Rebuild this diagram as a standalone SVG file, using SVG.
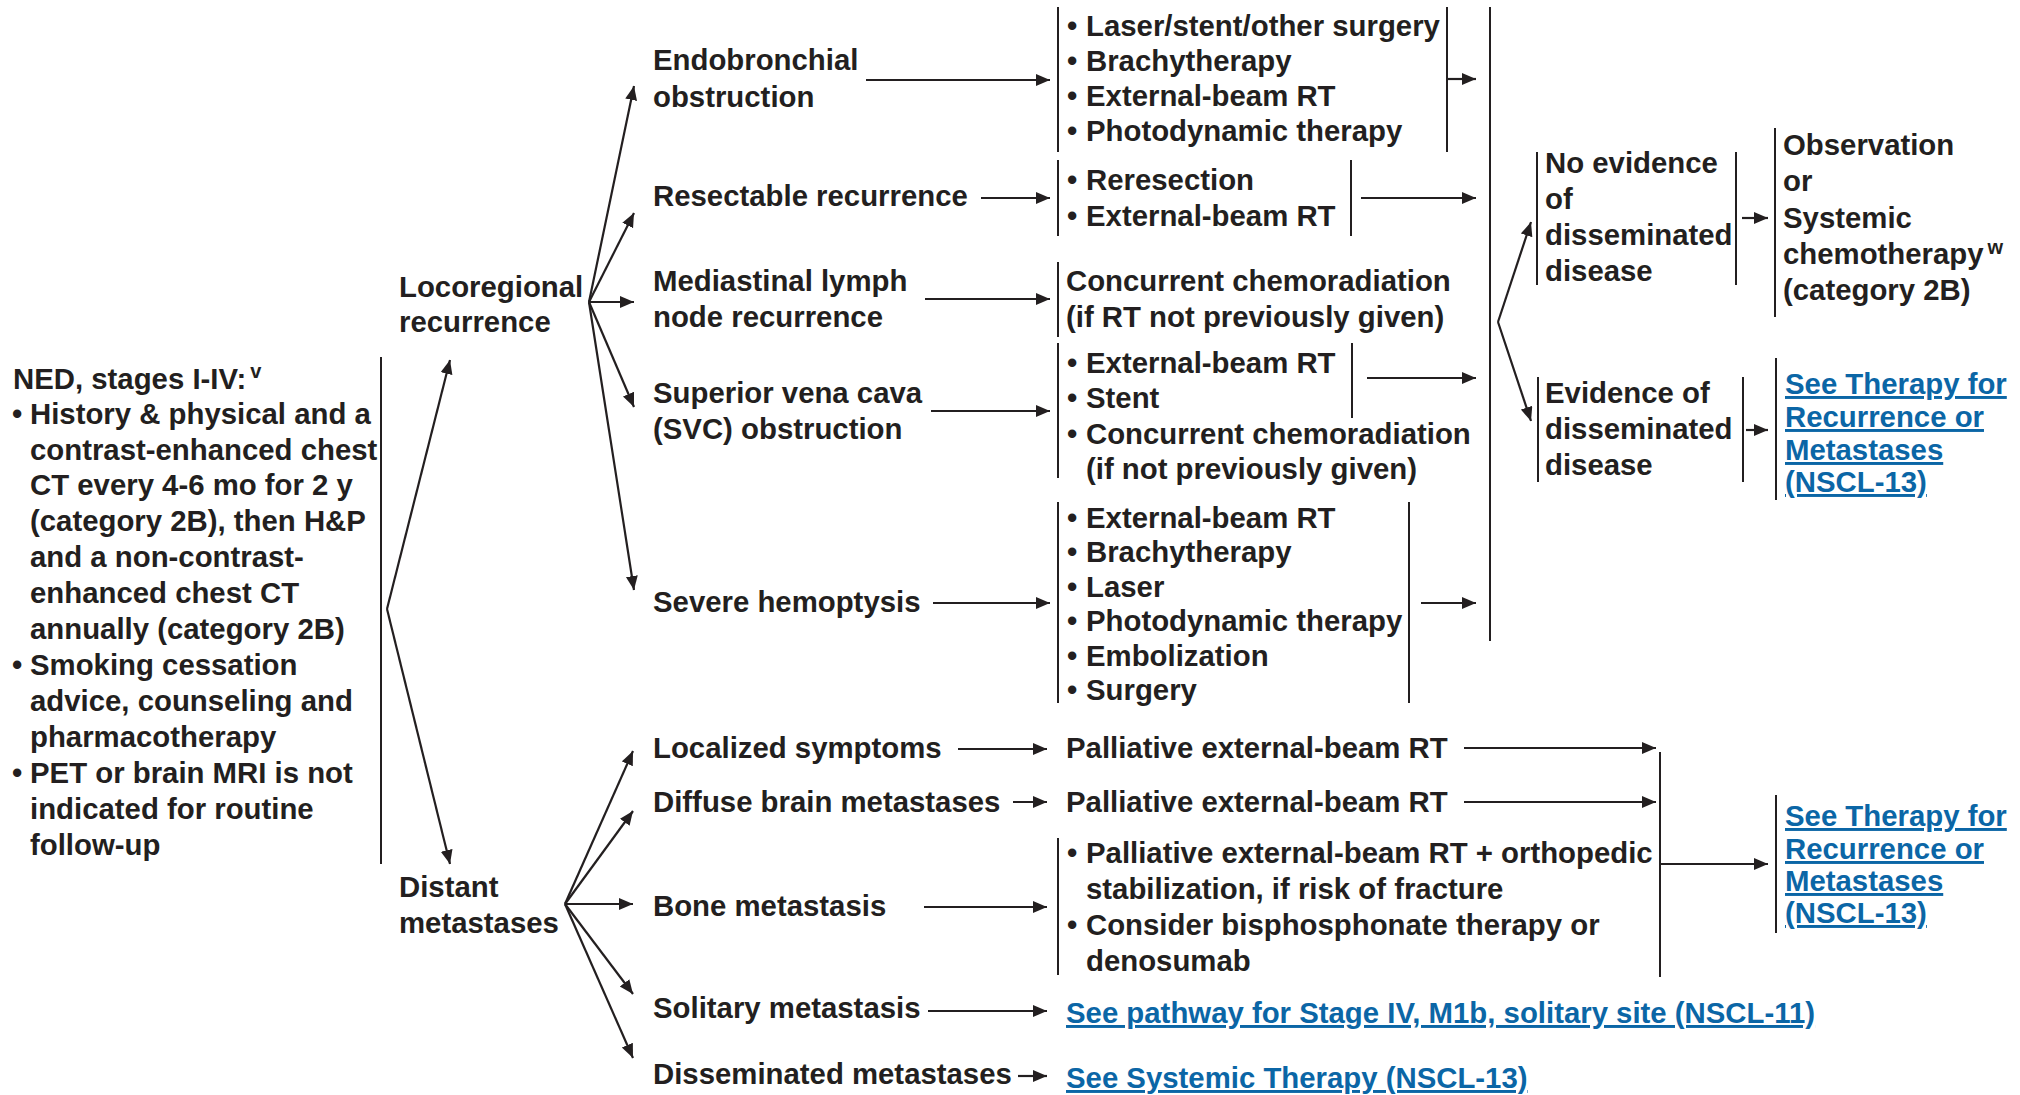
<svg xmlns="http://www.w3.org/2000/svg" width="2020" height="1095" viewBox="0 0 2020 1095">
<defs>
<style>
text{font-family:"Liberation Sans",Arial,Helvetica,sans-serif;font-weight:bold;font-size:29.35px;fill:#231f20}
.lk{fill:#0b66a6;text-decoration:underline}
.sup{font-size:20px}
.br{stroke:#231f20;stroke-width:2;fill:none}
.cn{stroke:#231f20;stroke-width:2.2;fill:none;marker-end:url(#ah)}
</style>
<marker id="ah" markerUnits="userSpaceOnUse" markerWidth="15" markerHeight="13" refX="14" refY="6" orient="auto">
<path d="M0,0 L14,6 L0,12 z" fill="#231f20"/>
</marker>
</defs>
<rect width="2020" height="1095" fill="#ffffff"/>

<g id="ned">
<text x="13" y="389">NED, stages I-IV:<tspan class="sup" dx="4" dy="-11">v</tspan></text>
<text x="12" y="424">•<tspan x="30">History &amp; physical and a</tspan></text>
<text x="30" y="460">contrast-enhanced chest</text>
<text x="30" y="495">CT every 4-6 mo for 2 y</text>
<text x="30" y="531">(category 2B), then H&amp;P</text>
<text x="30" y="567">and a non-contrast-</text>
<text x="30" y="603">enhanced chest CT</text>
<text x="30" y="639">annually (category 2B)</text>
<text x="12" y="675">•<tspan x="30">Smoking cessation</tspan></text>
<text x="30" y="711">advice, counseling and</text>
<text x="30" y="747">pharmacotherapy</text>
<text x="12" y="783">•<tspan x="30">PET or brain MRI is not</tspan></text>
<text x="30" y="819">indicated for routine</text>
<text x="30" y="855">follow-up</text>
<line class="br" x1="381" y1="357" x2="381" y2="864"/>
</g>

<g id="locoregional">
<text x="399" y="297">Locoregional</text>
<text x="399" y="332">recurrence</text>
</g>

<g id="distant">
<text x="399" y="897">Distant</text>
<text x="399" y="933">metastases</text>
</g>

<g id="endobronchial">
<text x="653" y="70">Endobronchial</text>
<text x="653" y="107">obstruction</text>
</g>
<g id="endo-tx">
<line class="br" x1="1058" y1="7" x2="1058" y2="152"/>
<line class="br" x1="1447" y1="7" x2="1447" y2="152"/>
<text x="1067" y="36">•<tspan x="1086">Laser/stent/other surgery</tspan></text>
<text x="1067" y="71">•<tspan x="1086">Brachytherapy</tspan></text>
<text x="1067" y="106">•<tspan x="1086">External-beam RT</tspan></text>
<text x="1067" y="141">•<tspan x="1086">Photodynamic therapy</tspan></text>
</g>

<g id="resectable">
<text x="653" y="206">Resectable recurrence</text>
</g>
<g id="resect-tx">
<line class="br" x1="1058" y1="160" x2="1058" y2="236"/>
<line class="br" x1="1351" y1="160" x2="1351" y2="236"/>
<text x="1067" y="190">•<tspan x="1086">Reresection</tspan></text>
<text x="1067" y="226">•<tspan x="1086">External-beam RT</tspan></text>
</g>

<g id="mediastinal">
<text x="653" y="291">Mediastinal lymph</text>
<text x="653" y="327">node recurrence</text>
</g>
<g id="mediast-tx">
<line class="br" x1="1058" y1="262" x2="1058" y2="337"/>
<text x="1066" y="291">Concurrent chemoradiation</text>
<text x="1066" y="327">(if RT not previously given)</text>
</g>

<g id="svc">
<text x="653" y="403">Superior vena cava</text>
<text x="653" y="439">(SVC) obstruction</text>
</g>
<g id="svc-tx">
<line class="br" x1="1058" y1="343" x2="1058" y2="478"/>
<line class="br" x1="1352" y1="343" x2="1352" y2="418"/>
<text x="1067" y="373">•<tspan x="1086">External-beam RT</tspan></text>
<text x="1067" y="408">•<tspan x="1086">Stent</tspan></text>
<text x="1067" y="444">•<tspan x="1086">Concurrent chemoradiation</tspan></text>
<text x="1086" y="479">(if not previously given)</text>
</g>

<g id="hemoptysis">
<text x="653" y="612">Severe hemoptysis</text>
</g>
<g id="hemo-tx">
<line class="br" x1="1058" y1="502" x2="1058" y2="703"/>
<line class="br" x1="1409" y1="502" x2="1409" y2="703"/>
<text x="1067" y="528">•<tspan x="1086">External-beam RT</tspan></text>
<text x="1067" y="562">•<tspan x="1086">Brachytherapy</tspan></text>
<text x="1067" y="597">•<tspan x="1086">Laser</tspan></text>
<text x="1067" y="631">•<tspan x="1086">Photodynamic therapy</tspan></text>
<text x="1067" y="666">•<tspan x="1086">Embolization</tspan></text>
<text x="1067" y="700">•<tspan x="1086">Surgery</tspan></text>
</g>

<g id="collector">
<line class="br" x1="1490" y1="7" x2="1490" y2="641"/>
</g>

<g id="no-evidence">
<line class="br" x1="1537" y1="152" x2="1537" y2="285"/>
<line class="br" x1="1736" y1="152" x2="1736" y2="285"/>
<text x="1545" y="173">No evidence</text>
<text x="1545" y="209">of</text>
<text x="1545" y="245">disseminated</text>
<text x="1545" y="281">disease</text>
</g>

<g id="observation">
<line class="br" x1="1775" y1="128" x2="1775" y2="317"/>
<text x="1783" y="155">Observation</text>
<text x="1783" y="191">or</text>
<text x="1783" y="228">Systemic</text>
<text x="1783" y="264">chemotherapy<tspan class="sup" dx="4" dy="-10">w</tspan></text>
<text x="1783" y="300">(category 2B)</text>
</g>

<g id="evidence">
<line class="br" x1="1538" y1="377" x2="1538" y2="482"/>
<line class="br" x1="1743" y1="377" x2="1743" y2="482"/>
<text x="1545" y="403">Evidence of</text>
<text x="1545" y="439">disseminated</text>
<text x="1545" y="475">disease</text>
</g>

<g id="link-recur-1">
<line class="br" x1="1776" y1="358" x2="1776" y2="500"/>
<text class="lk" x="1785" y="394">See Therapy for</text>
<text class="lk" x="1785" y="427">Recurrence or</text>
<text class="lk" x="1785" y="460">Metastases</text>
<text class="lk" x="1785" y="492">(NSCL-13)</text>
</g>

<g id="localized">
<text x="653" y="758">Localized symptoms</text>
</g>
<g id="localized-tx">
<text x="1066" y="758">Palliative external-beam RT</text>
</g>

<g id="brain">
<text x="653" y="812">Diffuse brain metastases</text>
</g>
<g id="brain-tx">
<text x="1066" y="812">Palliative external-beam RT</text>
</g>

<g id="bone">
<text x="653" y="916">Bone metastasis</text>
</g>
<g id="bone-tx">
<line class="br" x1="1058" y1="838" x2="1058" y2="975"/>
<text x="1067" y="863">•<tspan x="1086">Palliative external-beam RT + orthopedic</tspan></text>
<text x="1086" y="899">stabilization, if risk of fracture</text>
<text x="1067" y="935">•<tspan x="1086">Consider bisphosphonate therapy or</tspan></text>
<text x="1086" y="971">denosumab</text>
</g>

<g id="distant-collector">
<line class="br" x1="1660" y1="752" x2="1660" y2="977"/>
</g>

<g id="link-recur-2">
<line class="br" x1="1776" y1="795" x2="1776" y2="933"/>
<text class="lk" x="1785" y="826">See Therapy for</text>
<text class="lk" x="1785" y="859">Recurrence or</text>
<text class="lk" x="1785" y="891">Metastases</text>
<text class="lk" x="1785" y="923">(NSCL-13)</text>
</g>

<g id="solitary">
<text x="653" y="1018">Solitary metastasis</text>
</g>
<g id="solitary-tx">
<text class="lk" x="1066" y="1023">See pathway for Stage IV, M1b, solitary site (NSCL-11)</text>
</g>

<g id="disseminated">
<text x="653" y="1084">Disseminated metastases</text>
</g>
<g id="disseminated-tx">
<text class="lk" x="1066" y="1088">See Systemic Therapy (NSCL-13)</text>
</g>

<g id="connectors">
<line class="cn" x1="387" y1="609" x2="450" y2="360"/>
<line class="cn" x1="387" y1="609" x2="450" y2="864"/>

<line class="cn" x1="589" y1="302" x2="634" y2="86"/>
<line class="cn" x1="589" y1="302" x2="634" y2="213"/>
<line class="cn" x1="589" y1="302" x2="634" y2="302"/>
<line class="cn" x1="589" y1="302" x2="634" y2="407"/>
<line class="cn" x1="589" y1="302" x2="634" y2="590"/>

<line class="cn" x1="565" y1="904" x2="633" y2="751"/>
<line class="cn" x1="565" y1="904" x2="633" y2="811"/>
<line class="cn" x1="565" y1="904" x2="633" y2="904"/>
<line class="cn" x1="565" y1="904" x2="633" y2="994"/>
<line class="cn" x1="565" y1="904" x2="633" y2="1058"/>

<line class="cn" x1="866" y1="80" x2="1050" y2="80"/>
<line class="cn" x1="981" y1="198" x2="1050" y2="198"/>
<line class="cn" x1="925" y1="299" x2="1050" y2="299"/>
<line class="cn" x1="931" y1="411" x2="1050" y2="411"/>
<line class="cn" x1="933" y1="603" x2="1050" y2="603"/>

<line class="cn" x1="1447" y1="79" x2="1476" y2="79"/>
<line class="cn" x1="1361" y1="198" x2="1476" y2="198"/>
<line class="cn" x1="1367" y1="378" x2="1476" y2="378"/>
<line class="cn" x1="1421" y1="603" x2="1476" y2="603"/>

<line class="cn" x1="1498" y1="322" x2="1531" y2="222"/>
<line class="cn" x1="1498" y1="322" x2="1531" y2="421"/>
<line class="cn" x1="1742" y1="218" x2="1768" y2="218"/>
<line class="cn" x1="1746" y1="430" x2="1768" y2="430"/>

<line class="cn" x1="958" y1="749" x2="1047" y2="749"/>
<line class="cn" x1="1464" y1="748" x2="1656" y2="748"/>
<line class="cn" x1="1013" y1="802" x2="1047" y2="802"/>
<line class="cn" x1="1464" y1="802" x2="1656" y2="802"/>
<line class="cn" x1="924" y1="907" x2="1047" y2="907"/>
<line class="cn" x1="1660" y1="864" x2="1768" y2="864"/>
<line class="cn" x1="928" y1="1011" x2="1047" y2="1011"/>
<line class="cn" x1="1018" y1="1076" x2="1047" y2="1076"/>
</g>
</svg>
